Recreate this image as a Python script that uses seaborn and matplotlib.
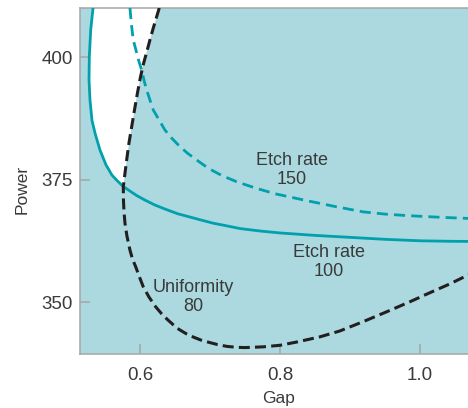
import numpy as np
import pandas as pd
import matplotlib
matplotlib.use("Agg")
import matplotlib.pyplot as plt
import seaborn as sns

# ---- data (Gap, Power) ----
# Etch rate = 100 contour (solid teal)
etch100_gap = [0.5326, 0.5293, 0.5273, 0.5269, 0.5283, 0.5311, 0.5354, 0.5426,
               0.5511, 0.5597, 0.5669, 0.5759, 0.5854, 0.5954, 0.6069, 0.6211,
               0.6369, 0.6540, 0.6711, 0.6854, 0.7040, 0.7254, 0.7426, 0.7711,
               0.8000, 0.8497, 0.9000, 0.9497, 1.0000, 1.0426, 1.0857]
etch100_power = [410.0, 405.5, 400.0, 395.3, 391.2, 387.1, 384.5, 381.0,
                 378.0, 375.9, 374.8, 373.57, 372.65, 371.7, 370.8, 369.8,
                 368.9, 368.0, 367.35, 366.8, 366.1, 365.5, 365.0, 364.5,
                 364.1, 363.6, 363.2, 362.8, 362.5, 362.4, 362.35]

# Etch rate = 150 contour (dashed teal)
etch150_gap = [0.5854, 0.5876, 0.5901, 0.5940, 0.5976, 0.6021, 0.6061, 0.6101,
               0.6187, 0.6254, 0.6354, 0.6454, 0.6569, 0.6683, 0.6807, 0.6973,
               0.7169, 0.7379, 0.7640, 0.7926, 0.8379, 0.8783, 0.9187, 0.9497,
               0.9807, 1.0211, 1.0616, 1.0857]
etch150_power = [410.0, 406.5, 403.5, 401.4, 399.4, 397.35, 394.9, 392.9,
                 389.2, 387.55, 385.1, 383.4, 381.7, 380.3, 379.0, 377.3,
                 375.8, 374.55, 373.3, 372.1, 370.7, 369.5, 368.4, 367.95,
                 367.65, 367.35, 367.1, 367.0]

# Uniformity = 80 contour (dashed black)
unif80_gap = [0.6273, 0.6230, 0.6187, 0.6140, 0.6093, 0.6047, 0.6004, 0.5961,
              0.5926, 0.5879, 0.5840, 0.5807, 0.5783, 0.5759, 0.5761, 0.5769,
              0.5783, 0.5811, 0.5854, 0.5890, 0.5936, 0.5990, 0.6044, 0.6126,
              0.6221, 0.6304, 0.6387, 0.6469, 0.6554, 0.6654, 0.6759, 0.6869,
              0.6983, 0.7104, 0.7236, 0.7379, 0.7497, 0.7759, 0.8000, 0.8236,
              0.8569, 0.8854, 0.9187, 0.9521, 0.9854, 1.0140, 1.0426, 1.0683,
              1.0857]
unif80_power = [410.0, 407.96, 405.9, 403.5, 401.0, 398.6, 395.9, 392.65,
                389.8, 385.8, 382.45, 379.0, 376.3, 373.57, 370.8, 368.4,
                366.06, 363.47, 360.61, 358.78, 357.2, 355.1, 353.12, 351.02,
                349.04, 347.65, 346.47, 345.41, 344.43, 343.57, 342.86, 342.24,
                341.78, 341.33, 340.96, 340.76, 340.71, 340.86, 341.18, 341.84,
                342.9, 344.1, 346.0, 348.0, 350.05, 351.9, 353.7, 355.5,
                356.6]

cross_power = 373.55  # where etch 100 meets uniformity 80

x_ticks = [0.6, 0.8, 1.0]
y_ticks = [350, 375, 400]

df100 = pd.DataFrame({"Gap": etch100_gap, "Power": etch100_power})
df150 = pd.DataFrame({"Gap": etch150_gap, "Power": etch150_power})
dfu = pd.DataFrame({"Gap": unif80_gap, "Power": unif80_power})

teal = "#00a0ac"
bg = "#abd9df"
txt = "#3a3a3a"
spine_c = "#a6a6a6"

sns.set_theme(style="white")
plt.rcParams["font.family"] = ["Liberation Sans", "DejaVu Sans"]

fig = plt.figure(figsize=(4.68, 4.08), dpi=100)
ax = fig.add_axes([80 / 468, 54 / 408, 400 / 468, 346 / 408])
ax.set_facecolor(bg)

# white window between the etch-100 and uniformity-80 curves
up100 = df100[df100.Power >= cross_power]
upu = dfu[dfu.Power >= cross_power]
poly_x = np.concatenate([up100.Gap.values, upu.Gap.values[::-1]])
poly_y = np.concatenate([up100.Power.values, upu.Power.values[::-1]])
ax.fill(poly_x, poly_y, color="white", lw=0, zorder=1)

sns.lineplot(data=df100, x="Gap", y="Power", sort=False, estimator=None,
             color=teal, lw=2.0, ax=ax, zorder=3, solid_joinstyle="round")
sns.lineplot(data=df150, x="Gap", y="Power", sort=False, estimator=None,
             color=teal, lw=2.0, linestyle=(0, (4.0, 2.2)), ax=ax, zorder=3)
sns.lineplot(data=dfu, x="Gap", y="Power", sort=False, estimator=None,
             color="#231f20", lw=2.2, linestyle=(0, (3.6, 1.7)), ax=ax, zorder=4)

ax.set_xlim(0.514, 1.0857)
ax.set_ylim(339.4, 410)
ax.set_xticks(x_ticks)
ax.set_xticklabels([f"{v:.1f}" for v in x_ticks])
ax.set_yticks(y_ticks)
ax.set_yticklabels([str(v) for v in y_ticks])

ax.tick_params(axis="both", direction="in", length=7, width=1.1,
               color=spine_c, labelsize=13.5, labelcolor=txt,
               bottom=True, left=True)
ax.tick_params(axis="x", pad=9)
ax.tick_params(axis="y", pad=5)
for s in ax.spines.values():
    s.set_color(spine_c)
    s.set_linewidth(1.1)

ax.set_xlabel("Gap", fontsize=12.5, color=txt)
ax.set_ylabel("Power", fontsize=12.5, color=txt)
ax.xaxis.label.set_va("center")
ax.yaxis.label.set_va("center")
ax.xaxis.set_label_coords(0.4975, -0.130)
ax.yaxis.set_label_coords(-0.145, 0.477)

# contour labels
ax.text(0.8169, 376.9, "Etch rate\n150", ha="center", va="center",
        fontsize=13, color=txt, linespacing=1.15, zorder=5)
ax.text(0.8697, 358.2, "Etch rate\n100", ha="center", va="center",
        fontsize=13, color=txt, linespacing=1.15, zorder=5)
ax.text(0.6754, 351.0, "Uniformity\n80", ha="center", va="center",
        fontsize=13, color=txt, linespacing=1.15, zorder=5)

fig.savefig("out.png", dpi=100)
